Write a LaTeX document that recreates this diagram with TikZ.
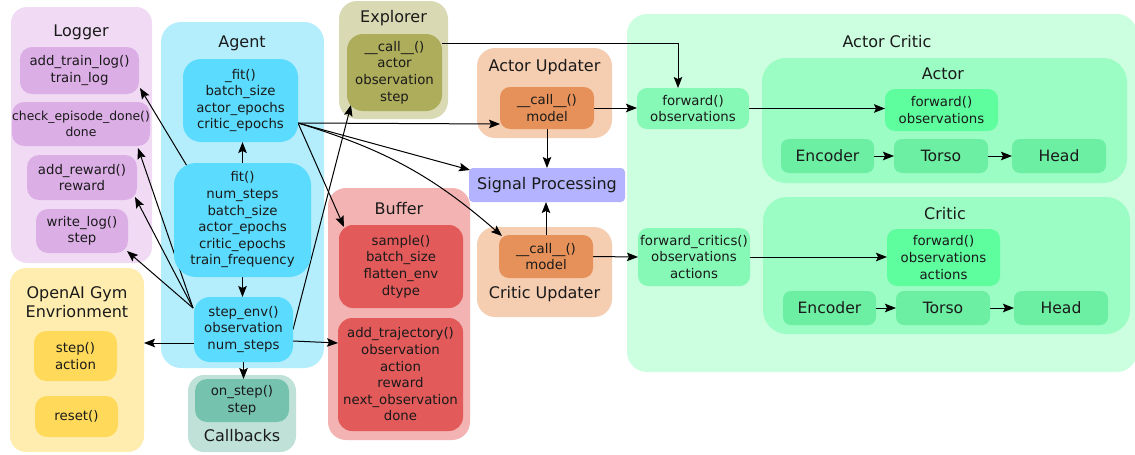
\documentclass[tikz,border=0pt]{standalone}
\usepackage{fontspec}
\setmainfont{DejaVu Sans}
\usetikzlibrary{arrows.meta,calc}
\pgfdeclarelayer{bg}\pgfdeclarelayer{mid}\pgfsetlayers{bg,mid,main}
\definecolor{txt}{HTML}{1A1A1A}
\definecolor{lgout}{HTML}{F0DAF4}
\definecolor{lgin}{HTML}{DCAEE6}
\definecolor{agout}{HTML}{B4EEFD}
\definecolor{agin}{HTML}{5BDBFD}
\definecolor{cbout}{HTML}{BFE1D7}
\definecolor{cbin}{HTML}{75C2AF}
\definecolor{gyout}{HTML}{FFEDB0}
\definecolor{gyin}{HTML}{FFD95A}
\definecolor{exout}{HTML}{D9D9B4}
\definecolor{exin}{HTML}{ADAD5B}
\definecolor{upout}{HTML}{F5CDB1}
\definecolor{upin}{HTML}{E6915A}
\definecolor{sigc}{HTML}{B3B3FF}
\definecolor{bfout}{HTML}{F3B3B3}
\definecolor{bfin}{HTML}{E35A5A}
\definecolor{acout}{HTML}{CCFFE0}
\definecolor{acmid}{HTML}{9BFCC4}
\definecolor{acfwd}{HTML}{86F9B6}
\definecolor{acinfwd}{HTML}{5EFD9E}
\definecolor{acpart}{HTML}{6CEFA3}
\newcommand\bodyfnt{\fontsize{13.3}{16.6}\selectfont}
\newcommand\smallfnt{\fontsize{12.4}{16.6}\selectfont}
\newcommand\ttlfnt{\fontsize{16}{19}\selectfont}
\newcommand\partfnt{\fontsize{15.6}{19}\selectfont}
\begin{document}
\begin{tikzpicture}[x=1pt,y=-1pt,
  box/.style 2 args={minimum width=#1pt, minimum height=#2pt, inner sep=0pt, outer sep=0pt, align=center},
  ttl/.style={font=\ttlfnt, inner sep=0pt, text=txt, align=center},
  bd/.style={font=\bodyfnt, text=txt},
  conn/.style={-{Stealth[length=11pt,width=8.5pt,inset=2pt]}, line width=1pt, black}]
\useasboundingbox (0,0) rectangle (1135,455);

% ---------- containers ----------
\begin{pgfonlayer}{bg}
\node[box={141}{256}, fill=lgout, rounded corners=16pt] (logger) at (81.5,135) {};
\node[box={163}{346}, fill=agout, rounded corners=20pt] (agent) at (242.5,195) {};
\node[box={108}{77}, fill=cbout, rounded corners=16pt] (callbacks) at (242,413.5) {};
\node[box={134}{184}, fill=gyout, rounded corners=16pt] (gym) at (77,360) {};
\node[box={109}{118}, fill=exout, rounded corners=18pt] (explorer) at (393.5,60) {};
\node[box={135}{90}, fill=upout, rounded corners=18pt] (actorupd) at (544.5,93) {};
\node[box={142}{252}, fill=bfout, rounded corners=18pt] (buffer) at (399,314) {};
\node[box={135}{90}, fill=upout, rounded corners=18pt] (criticupd) at (544.5,272) {};
\node[box={510}{358}, fill=acout, rounded corners=20pt] (actorcritic) at (882,193) {};
\node[box={365}{125}, fill=acmid, rounded corners=24pt] (actor) at (944.5,120.5) {};
\node[box={367}{137}, fill=acmid, rounded corners=24pt] (critic) at (946.5,265.5) {};
\end{pgfonlayer}

% ---------- titles ----------
\node[ttl] (tlogger) at (81,32) {Logger};
\node[ttl] (tagent) at (242,43) {Agent};
\node[ttl] (tcallbacks) at (242,436) {Callbacks};
\node[ttl] (tgym) at (77,302.5) {OpenAI Gym\\Envrionment};
\node[ttl] (texplorer) at (393.5,18) {Explorer};
\node[ttl] (tactorupd) at (544.5,67) {Actor Updater};
\node[ttl] (tbuffer) at (399,209) {Buffer};
\node[ttl] (tcriticupd) at (544.5,294) {Critic Updater};
\node[ttl] (tactorcritic) at (887,42) {Actor Critic};
\node[ttl] (tactor) at (943,74) {Actor};
\node[ttl] (tcritic) at (945,214) {Critic};

% ---------- inner boxes ----------
\node[box={119}{47}, fill=lgin, rounded corners=12pt, bd] (addtrain) at (79.5,70.5) {add\_train\_log()\\train\_log};
\node[box={138}{44}, fill=lgin, rounded corners=12pt, bd, font=\smallfnt] (checkep) at (81,124) {check\_episode\_done()\\done};
\node[box={110}{45}, fill=lgin, rounded corners=12pt, bd] (addrew) at (82,177.5) {add\_reward()\\reward};
\node[box={92}{44}, fill=lgin, rounded corners=12pt, bd] (writelog) at (82,231) {write\_log()\\step};

\node[box={115}{83}, fill=agin, rounded corners=18pt, bd] (fitu) at (240.5,100.5) {\_fit()\\batch\_size\\actor\_epochs\\critic\_epochs};
\node[box={137}{114}, fill=agin, rounded corners=22pt, bd] (fit) at (242.5,220) {fit()\\num\_steps\\batch\_size\\actor\_epochs\\critic\_epochs\\train\_frequency};
\node[box={99}{65}, fill=agin, rounded corners=16pt, bd] (stepenv) at (243.5,329.5) {step\_env()\\observation\\num\_steps};

\node[box={94}{43}, fill=cbin, rounded corners=12pt, bd] (onstep) at (242,400.5) {on\_step()\\step};

\node[box={83}{50}, fill=gyin, rounded corners=12pt, bd] (gstep) at (75.5,356) {step()\\action};
\node[box={83}{41}, fill=gyin, rounded corners=12pt, bd] (greset) at (76.5,416.5) {reset()};

\node[box={95}{77}, fill=exin, rounded corners=16pt, bd] (explin) at (394.5,72.5) {\_\_call\_\_()\\actor\\observation\\step};

\node[box={94}{42}, fill=upin, rounded corners=10pt, bd] (aupdin) at (547,108) {\_\_call\_\_()\\model};
\node[box={156}{34}, fill=sigc, rounded corners=4pt, font=\ttlfnt, text=txt] (sigproc) at (547,185) {Signal Processing};

\node[box={124}{83}, fill=bfin, rounded corners=14pt, bd] (sample) at (401,266.5) {sample()\\batch\_size\\flatten\_env\\dtype};
\node[box={125}{113}, fill=bfin, rounded corners=14pt, bd] (addtraj) at (400.5,374.5) {add\_trajectory()\\observation\\action\\reward\\next\_observation\\done};

\node[box={94}{43}, fill=upin, rounded corners=10pt, bd] (cupdin) at (546,256.5) {\_\_call\_\_()\\model};

\node[box={112}{41}, fill=acfwd, rounded corners=10pt, bd] (fwd) at (693,108.5) {forward()\\observations};
\node[box={113}{42}, fill=acinfwd, rounded corners=10pt, bd] (afwd) at (941.5,110) {forward()\\observations};
\node[box={93}{34}, fill=acpart, rounded corners=8pt, font=\partfnt, text=txt] (aenc) at (827.5,156) {Encoder};
\node[box={94}{34}, fill=acpart, rounded corners=8pt, font=\partfnt, text=txt] (ators) at (941,156) {Torso};
\node[box={94}{34}, fill=acpart, rounded corners=8pt, font=\partfnt, text=txt] (ahead) at (1059,156) {Head};

\node[box={112}{58}, fill=acfwd, rounded corners=10pt, bd] (fwdc) at (694,257) {forward\_critics()\\observations\\actions};
\node[box={113}{57}, fill=acinfwd, rounded corners=10pt, bd] (cfwd) at (943.5,257.5) {forward()\\observations\\actions};
\node[box={93}{34}, fill=acpart, rounded corners=8pt, font=\partfnt, text=txt] (cenc) at (829.5,308) {Encoder};
\node[box={94}{34}, fill=acpart, rounded corners=8pt, font=\partfnt, text=txt] (ctors) at (943,308) {Torso};
\node[box={94}{34}, fill=acpart, rounded corners=8pt, font=\partfnt, text=txt] (chead) at (1061,308) {Head};

% ---------- connectors ----------
\begin{pgfonlayer}{mid}
\draw[conn] (fit.north) -- (fit.north |- fitu.south);
\draw[conn] (fit.south) -- (fit.south |- stepenv.north);
\draw[conn] (stepenv.south) -- (stepenv.south |- onstep.north);
\coordinate (sgw) at ([yshift=-13.5pt]stepenv.west);
\draw[conn] (sgw) -- (sgw -| gym.east);
\coordinate (sbe) at ([yshift=-11.5pt]stepenv.east);
\draw[conn] (sbe) -- ([yshift=31.5pt]addtraj.west);
\draw[conn] (stepenv.east) -- ([xshift=4pt,yshift=6pt]explin.south west);
\draw[conn] ([xshift=13pt,yshift=-3pt]fit.north west) -- ([xshift=1pt,yshift=6pt]addtrain.south east);
\coordinate (slg) at ([xshift=-1pt,yshift=-11pt]stepenv.north west);
\draw[conn] (slg) -- ([xshift=-12pt,yshift=-2pt]checkep.south east);
\draw[conn] (slg) -- ([xshift=-2pt,yshift=3pt]addrew.south east);
\draw[conn] (slg) -- ([xshift=-1pt,yshift=2pt]writelog.south east);
\coordinate (fs) at ([yshift=-22.5pt]fitu.east);
\draw[conn] (fs) -- ([xshift=5pt,yshift=-2pt]sample.north west);
\draw[conn] (fs) -- ([yshift=-16pt]aupdin.west);
\draw[conn] (fs) -- ([xshift=1pt,yshift=-2pt]sigproc.north west);
\draw[conn] (fs) to[bend left=12] ([xshift=3pt,yshift=-1pt]cupdin.north west);
\draw[conn] ([yshift=29.5pt]explin.east) -| ([xshift=-15pt]fwd.north);
\draw[conn] (aupdin.east) -- (aupdin.east -| fwd.west);
\draw[conn] (aupdin.south) -- (aupdin.south |- sigproc.north);
\draw[conn] (cupdin.north) -- (cupdin.north |- sigproc.south);
\draw[conn] (cupdin.east) -- (fwdc.west);
\draw[conn] (fwd.east) -- (fwd.east -| afwd.west);
\draw[conn] (fwdc.east) -- (fwdc.east -| cfwd.west);
\draw[conn] ([xshift=-2pt]aenc.east) -- (ators.west);
\draw[conn] ([xshift=-2pt]ators.east) -- (ahead.west);
\draw[conn] ([xshift=-2pt]cenc.east) -- (ctors.west);
\draw[conn] ([xshift=-2pt]ctors.east) -- (chead.west);
\end{pgfonlayer}
\end{tikzpicture}
\end{document}
